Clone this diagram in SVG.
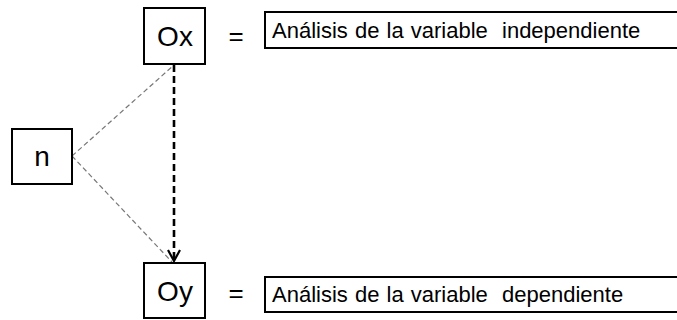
<svg xmlns="http://www.w3.org/2000/svg" width="677" height="320" viewBox="0 0 677 320">
  <style>
    .box { fill: #fff; stroke: #000; stroke-width: 2; }
    .lbl { font-family: "Liberation Sans", Arial, sans-serif; fill: #000; }
    .big { font-size: 28px; text-anchor: middle; }
    .eq { font-size: 26px; text-anchor: middle; }
    .desc { font-size: 22px; word-spacing: 1px; }
    .thin { stroke: #777; stroke-width: 1.2; stroke-dasharray: 5 3; fill: none; }
    .main { stroke: #000; stroke-width: 2.6; stroke-dasharray: 7 4; fill: none; }
  </style>
  <defs>
    <marker id="vhead" viewBox="0 0 14 14" refX="12" refY="7" markerWidth="14" markerHeight="14" markerUnits="userSpaceOnUse" orient="auto">
      <path d="M1,1 L12,7 L1,13" fill="none" stroke="#000" stroke-width="2.2"/>
    </marker>
  </defs>

  <g id="connectors">
    <line class="thin" x1="72" y1="156" x2="174" y2="65"/>
    <line class="thin" x1="72" y1="156" x2="172" y2="262"/>
    <line class="main" x1="174" y1="65" x2="174" y2="261" marker-end="url(#vhead)"/>
  </g>

  <g id="node-n">
    <rect class="box" x="12" y="129" width="60" height="55"/>
    <text class="lbl big" x="42" y="166">n</text>
  </g>

  <g id="node-ox">
    <rect class="box" x="144" y="8" width="61" height="56"/>
    <text class="lbl big" x="175" y="46">Ox</text>
  </g>

  <g id="node-oy">
    <rect class="box" x="144" y="263" width="61" height="55"/>
    <text class="lbl big" x="175" y="301">Oy</text>
  </g>

  <g id="eq-ox">
    <text class="lbl eq" x="236" y="45">=</text>
  </g>
  <g id="eq-oy">
    <text class="lbl eq" x="236" y="302">=</text>
  </g>

  <g id="desc-ox">
    <rect class="box" x="265" y="12" width="420" height="36"/>
    <text class="lbl desc" x="272" y="38" xml:space="preserve">Análisis de la variable  independiente</text>
  </g>

  <g id="desc-oy">
    <rect class="box" x="265" y="277" width="420" height="35"/>
    <text class="lbl desc" x="272" y="302" xml:space="preserve">Análisis de la variable  dependiente</text>
  </g>
</svg>
